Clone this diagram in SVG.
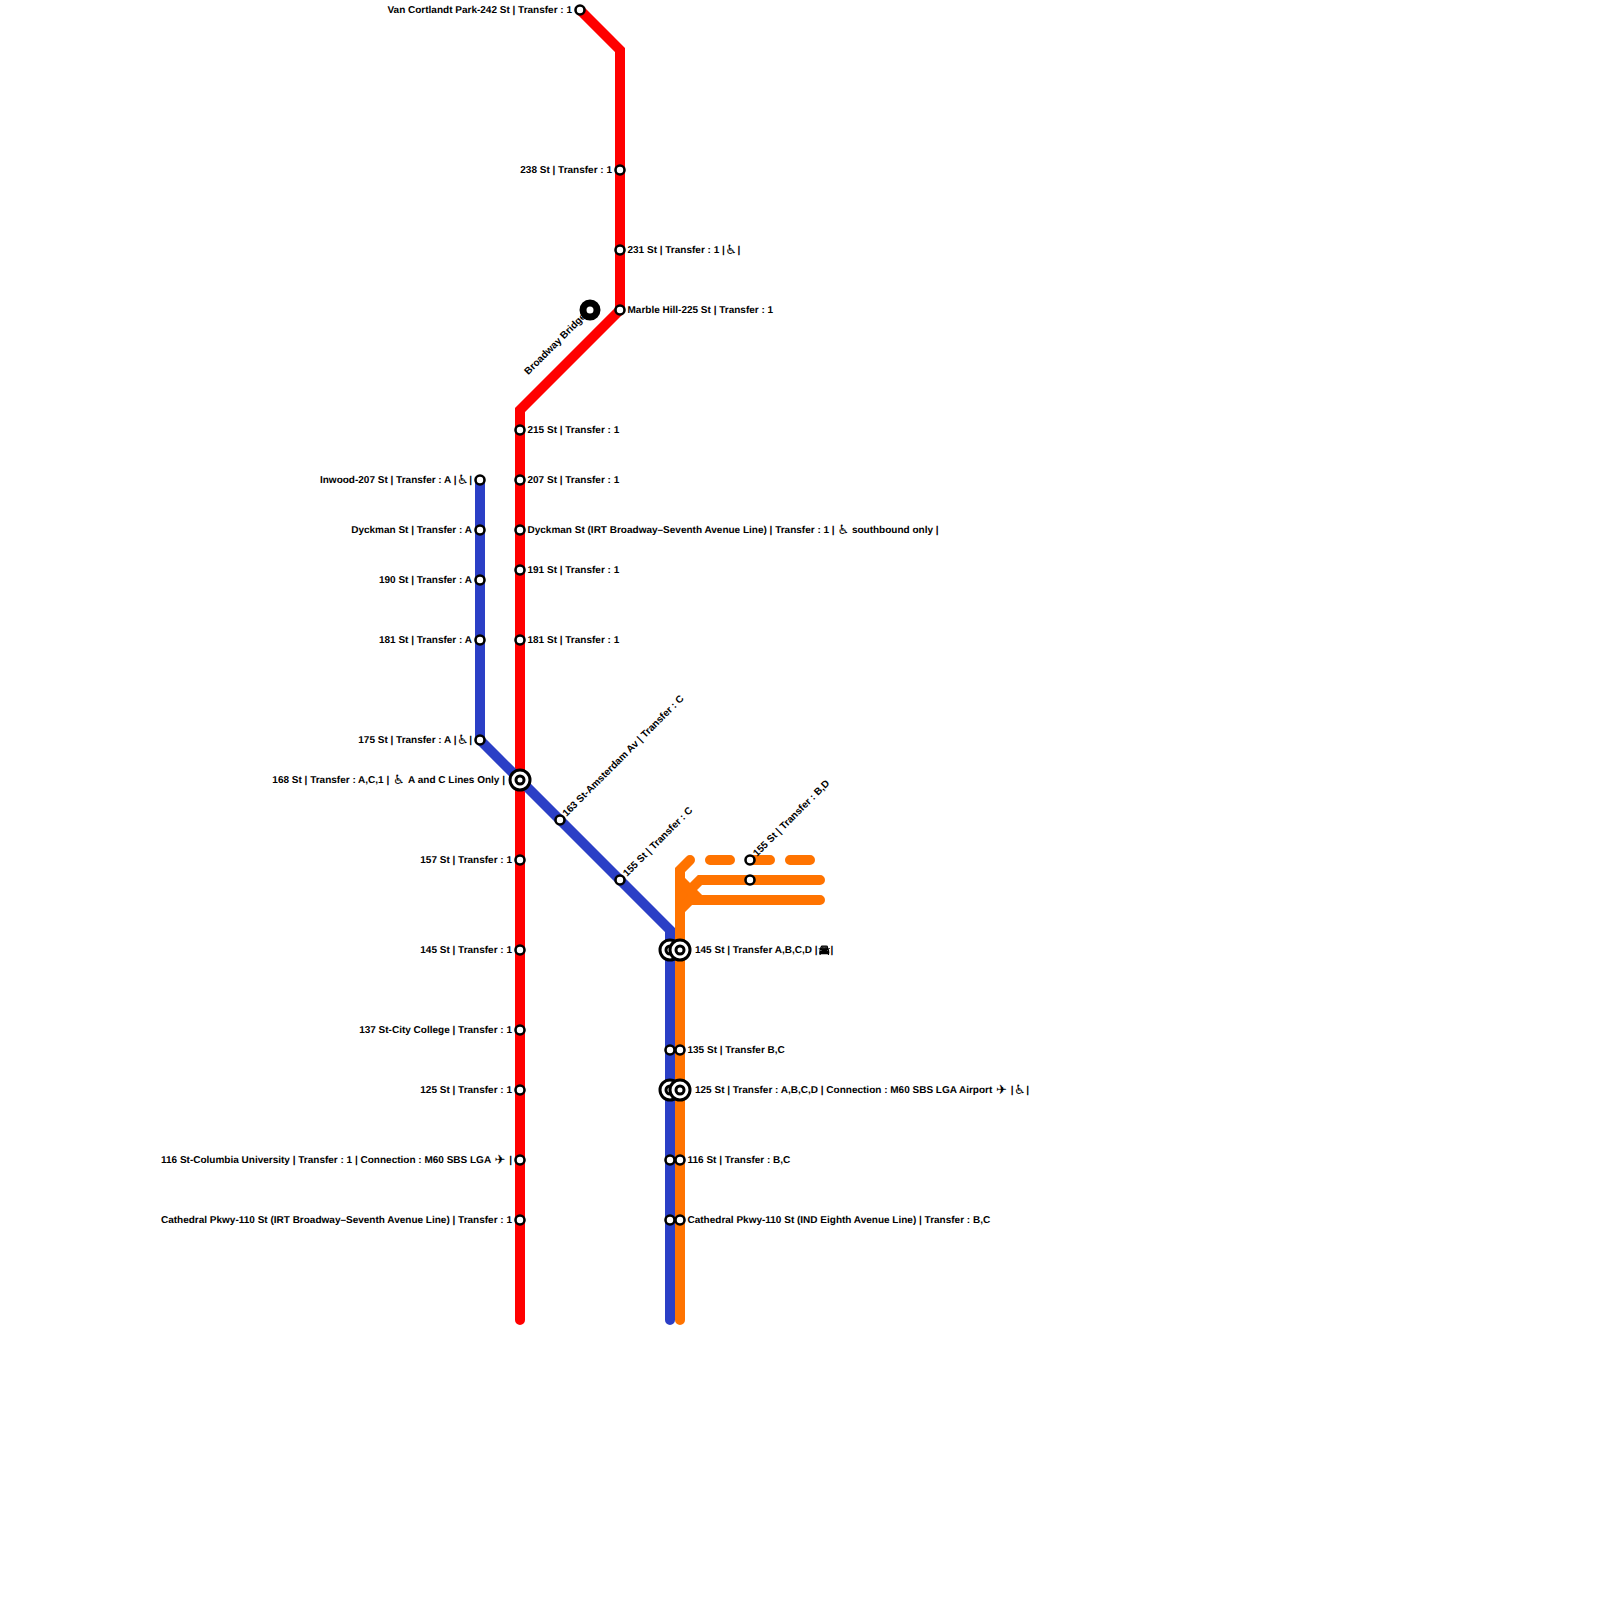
<svg xmlns="http://www.w3.org/2000/svg" width="1600" height="1600" viewBox="0 0 1600 1600">
<style>
.l{fill:none;stroke-width:10;stroke-linejoin:miter}
.c{stroke-linecap:round}
.r{stroke:#ff0000}.b{stroke:#2b3fc6}.o{stroke:#ff7300}
.s{fill:#fff;stroke:#000;stroke-width:2.6}
.i{fill:#fff;stroke:#000;stroke-width:3}
text{font-family:"Liberation Sans",Arial,"DejaVu Sans",sans-serif;font-size:10px;font-weight:bold;fill:#000;text-rendering:geometricPrecision}
.e{text-anchor:end}
.y{font-family:"DejaVu Sans",sans-serif;font-size:13px;font-weight:normal;baseline-shift:-1px}
.car{filter:grayscale(1) brightness(.5) contrast(3)}
</style>
<rect width="1600" height="1600" fill="#fff"/>
<g id="connectors">
<path class="l r c" d="M580 10L620 50V310L520 410V1320"/>
<path class="l b c" d="M480 480V740L670 930V1320"/>
<path class="l o c" d="M680 1320V870L690 860"/>
<path class="l o c" d="M710 860H730M750 860H770M790 860H810"/>
<path class="l o c" d="M820 880H700L680 900"/>
<path class="l o c" d="M820 900H700L680 880"/>
<path class="l o" d="M700 900H690L680 910"/>
</g>
<g id="n5"><circle cx="590" cy="310" r="7" fill="#fff" stroke="#000" stroke-width="7"/><text class="e" transform="translate(586.5 317) rotate(-45)">Broadway Bridge</text></g>
<g id="n1"><circle class="s" cx="580" cy="10" r="4.5"/><text class="e" x="572" y="12.5">Van Cortlandt Park-242 St | Transfer : 1</text></g>
<g id="n2"><circle class="s" cx="620" cy="170" r="4.5"/><text class="e" x="612" y="172.5">238 St | Transfer : 1</text></g>
<g id="n3"><circle class="s" cx="620" cy="250" r="4.5"/><text x="627.5" y="252.5">231 St | Transfer : 1 |<tspan class="y" dx="0.5">♿</tspan><tspan dx="0.5">|</tspan></text></g>
<g id="n4"><circle class="s" cx="620" cy="310" r="4.5"/><text x="627.5" y="312.5">Marble Hill-225 St | Transfer : 1</text></g>
<g id="n6"><circle class="s" cx="520" cy="430" r="4.5"/><text x="527.5" y="432.5">215 St | Transfer : 1</text></g>
<g id="n7"><circle class="s" cx="520" cy="480" r="4.5"/><text x="527.5" y="482.5">207 St | Transfer : 1</text></g>
<g id="n8"><circle class="s" cx="520" cy="530" r="4.5"/><text x="527.5" y="532.5">Dyckman St (IRT Broadway–Seventh Avenue Line) | Transfer : 1 | <tspan class="y">♿</tspan> southbound only |</text></g>
<g id="n9"><circle class="s" cx="520" cy="570" r="4.5"/><text x="527.5" y="572.5">191 St | Transfer : 1</text></g>
<g id="n10"><circle class="s" cx="520" cy="640" r="4.5"/><text x="527.5" y="642.5">181 St | Transfer : 1</text></g>
<g id="n11"><circle class="s" cx="480" cy="480" r="4.5"/><text class="e" x="472" y="482.5">Inwood-207 St | Transfer : A |<tspan class="y" dx="0.5">♿</tspan><tspan dx="0.5">|</tspan></text></g>
<g id="n12"><circle class="s" cx="480" cy="530" r="4.5"/><text class="e" x="472" y="532.5">Dyckman St | Transfer : A</text></g>
<g id="n13"><circle class="s" cx="480" cy="580" r="4.5"/><text class="e" x="472" y="582.5">190 St | Transfer : A</text></g>
<g id="n14"><circle class="s" cx="480" cy="640" r="4.5"/><text class="e" x="472" y="642.5">181 St | Transfer : A</text></g>
<g id="n15"><circle class="s" cx="480" cy="740" r="4.5"/><text class="e" x="472" y="742.5">175 St | Transfer : A |<tspan class="y" dx="0.5">♿</tspan><tspan dx="0.5">|</tspan></text></g>
<g id="n16"><circle class="i" cx="520" cy="780" r="10"/><circle class="i" cx="520" cy="780" r="4"/><text class="e" x="505" y="782.5">168 St | Transfer : A,C,1 | <tspan class="y" dx="1">♿</tspan><tspan dx="1"> A and C Lines Only |</tspan></text></g>
<g id="n17"><circle class="s" cx="560" cy="820" r="4.5"/><text transform="translate(566.5 817) rotate(-45)">163 St-Amsterdam Av | Transfer : C</text></g>
<g id="n18"><circle class="s" cx="620" cy="880" r="4.5"/><text transform="translate(627 877) rotate(-45)">155 St | Transfer : C</text></g>
<g id="n19"><circle class="s" cx="520" cy="860" r="4.5"/><text class="e" x="512" y="862.5">157 St | Transfer : 1</text></g>
<g id="n20"><circle class="s" cx="520" cy="950" r="4.5"/><text class="e" x="512" y="952.5">145 St | Transfer : 1</text></g>
<g id="n21"><circle class="s" cx="520" cy="1030" r="4.5"/><text class="e" x="512" y="1032.5">137 St-City College | Transfer : 1</text></g>
<g id="n22"><circle class="s" cx="520" cy="1090" r="4.5"/><text class="e" x="512" y="1092.5">125 St | Transfer : 1</text></g>
<g id="n23"><circle class="s" cx="520" cy="1160" r="4.5"/><text class="e" x="512" y="1162.5">116 St-Columbia University | Transfer : 1 | Connection : M60 SBS LGA <tspan class="y" dx="1">✈</tspan><tspan dx="1"> |</tspan></text></g>
<g id="n24"><circle class="s" cx="520" cy="1220" r="4.5"/><text class="e" x="512" y="1222.5">Cathedral Pkwy-110 St (IRT Broadway–Seventh Avenue Line) | Transfer : 1</text></g>
<g id="n25"><circle class="s" cx="750" cy="860" r="4.5"/><text transform="translate(757 857) rotate(-45)">155 St | Transfer : B,D</text></g>
<g id="n26"><circle class="s" cx="750" cy="880" r="4.5"/></g>
<g id="n27"><circle class="i" cx="670" cy="950" r="10"/><circle class="i" cx="670" cy="950" r="4"/></g>
<g id="n28"><circle class="i" cx="680" cy="950" r="10"/><circle class="i" cx="680" cy="950" r="4"/><text x="695" y="952.5">145 St | Transfer A,B,C,D | </text><text class="car" x="818.5" y="953">🚘</text><text x="830.6" y="952.5">|</text></g>
<g id="n29"><circle class="s" cx="670" cy="1050" r="4.5"/></g>
<g id="n30"><circle class="s" cx="680" cy="1050" r="4.5"/><text x="687.5" y="1052.5">135 St | Transfer B,C</text></g>
<g id="n31"><circle class="i" cx="670" cy="1090" r="10"/><circle class="i" cx="670" cy="1090" r="4"/></g>
<g id="n32"><circle class="i" cx="680" cy="1090" r="10"/><circle class="i" cx="680" cy="1090" r="4"/><text x="695" y="1092.5">125 St | Transfer : A,B,C,D | Connection : M60 SBS LGA Airport <tspan class="y" dx="1">✈</tspan><tspan dx="1"> |</tspan><tspan class="y" dx="0.5">♿</tspan><tspan dx="0.5">|</tspan></text></g>
<g id="n33"><circle class="s" cx="670" cy="1160" r="4.5"/></g>
<g id="n34"><circle class="s" cx="680" cy="1160" r="4.5"/><text x="687.5" y="1162.5">116 St | Transfer : B,C</text></g>
<g id="n35"><circle class="s" cx="670" cy="1220" r="4.5"/></g>
<g id="n36"><circle class="s" cx="680" cy="1220" r="4.5"/><text x="687.5" y="1222.5">Cathedral Pkwy-110 St (IND Eighth Avenue Line) | Transfer : B,C</text></g>
</svg>
